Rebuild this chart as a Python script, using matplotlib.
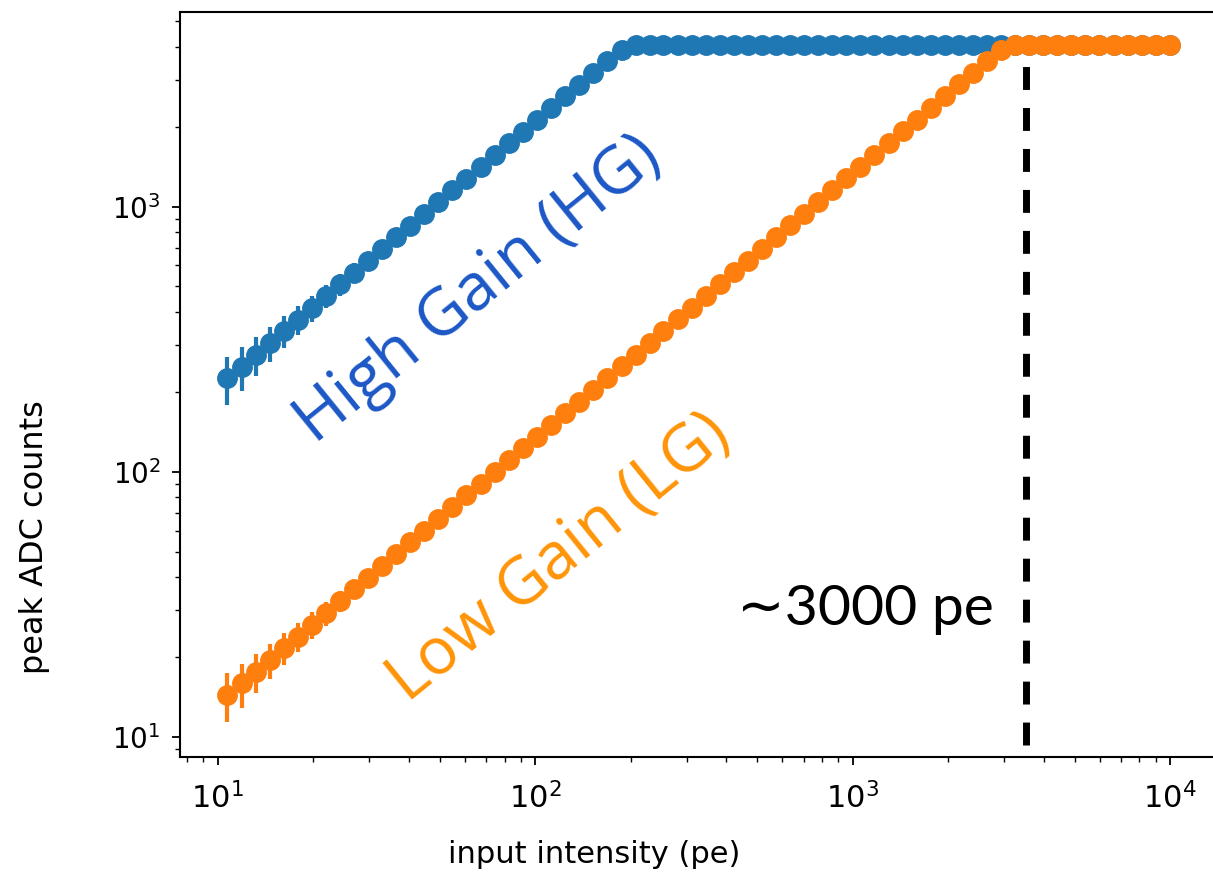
import matplotlib
matplotlib.use("Agg")
import matplotlib.pyplot as plt

# Peak ADC response of the high-gain and low-gain channels vs. injected light.
INTENSITY_PE = [
    10.7, 11.9, 13.2, 14.6, 16.1, 17.9, 19.8, 21.9, 24.2, 26.9,
    29.7, 32.9, 36.5, 40.4, 44.7, 49.5, 54.8, 60.7, 67.2, 74.5,
    82.5, 91.3, 101, 112, 124, 137, 152, 168, 187, 207,
    229, 253, 281, 311, 344, 381, 422, 467, 517, 573,
    634, 703, 778, 862, 954, 1057, 1170, 1296, 1435, 1589,
    1760, 1949, 2158, 2390, 2647, 2931, 3246, 3594, 3980, 4408,
    4881, 5406, 5986, 6629, 7341, 8130, 9003, 9970,
]

HG_ADC = [
    225, 249, 276, 306, 339, 375, 415, 460, 509, 564,
    624, 691, 766, 848, 939, 1040, 1151, 1275, 1412, 1564,
    1732, 1918, 2123, 2352, 2604, 2883, 3194, 3536, 3880, 4060,
    4085, 4085, 4085, 4085, 4085, 4085, 4085, 4085, 4085, 4085,
    4085, 4085, 4085, 4085, 4085, 4085, 4085, 4085, 4085, 4085,
    4085, 4085, 4085, 4085, 4085, 4085, 4085, 4085, 4085, 4085,
    4085, 4085, 4085, 4085, 4085, 4085, 4085, 4085,
]

LG_ADC = [
    14.4, 15.9, 17.6, 19.5, 21.6, 23.9, 26.5, 29.3, 32.5, 36.0,
    39.8, 44.1, 48.9, 54.1, 59.9, 66.3, 73.5, 81.4, 90.1, 99.8,
    110.5, 122.4, 135.5, 150.1, 166.2, 184.0, 203.8, 225.7, 249.9, 276.7,
    306.5, 339.4, 375.9, 416.2, 461.0, 510.4, 565.2, 625.9, 693.2, 767.7,
    850.1, 941.4, 1042, 1155, 1279, 1416, 1568, 1736, 1923, 2129,
    2358, 2611, 2892, 3202, 3546, 3890, 4060, 4085, 4085, 4085,
    4085, 4085, 4085, 4085, 4085, 4085, 4085, 4085,
]

HG_ERR = 47.0   # ADC counts
LG_ERR = 3.0
LG_LIMIT_PE = 3500

fig = plt.figure(figsize=(12.13, 8.75), dpi=100)
ax = fig.add_axes([0.1484, 0.1349, 0.8546, 0.8514])

ax.plot([LG_LIMIT_PE, LG_LIMIT_PE], [9.3, 4085], color="black", lw=5,
        dashes=(3.3, 2.6), zorder=1)

ax.errorbar(INTENSITY_PE, HG_ADC, yerr=HG_ERR, fmt="o", color="#1f77b4",
            ms=14, elinewidth=3, capsize=0, zorder=2)
ax.errorbar(INTENSITY_PE, LG_ADC, yerr=LG_ERR, fmt="o", color="#ff7f0e",
            ms=14, elinewidth=3, capsize=0, zorder=3)

ax.set_xscale("log")
ax.set_yscale("log")
ax.set_xlim(7.6, 14000)
ax.set_ylim(8.4, 5420)

for spine in ax.spines.values():
    spine.set_linewidth(1.5)
ax.tick_params(which="major", length=6, width=1.3)
ax.tick_params(which="minor", length=3.5, width=1.0)
ax.tick_params(axis="y", labelsize=20, pad=8)
ax.tick_params(axis="x", labelsize=22, pad=12)

ax.set_xlabel("input intensity (pe)", fontsize=22)
ax.set_ylabel("peak ADC counts", fontsize=23)
ax.yaxis.set_label_coords(-0.125, 0.295)
ax.xaxis.set_label_coords(0.40, -0.112)

ax.text(0.288, 0.627, "High Gain (HG)", transform=ax.transAxes,
        fontsize=47, color="#1b57c6", family="Open Sans", rotation=39,
        rotation_mode="anchor", ha="center", va="center")
ax.text(0.366, 0.267, "Low Gain (LG)", transform=ax.transAxes,
        fontsize=47, color="#ff9408", family="Open Sans", rotation=39,
        rotation_mode="anchor", ha="center", va="center")
ax.text(0.537, 0.177, "\u223c3000 pe", transform=ax.transAxes,
        fontsize=41, color="black", family=["Lato", "DejaVu Sans"],
        ha="left", va="baseline")

fig.savefig("out.png", dpi=100, facecolor="white")
